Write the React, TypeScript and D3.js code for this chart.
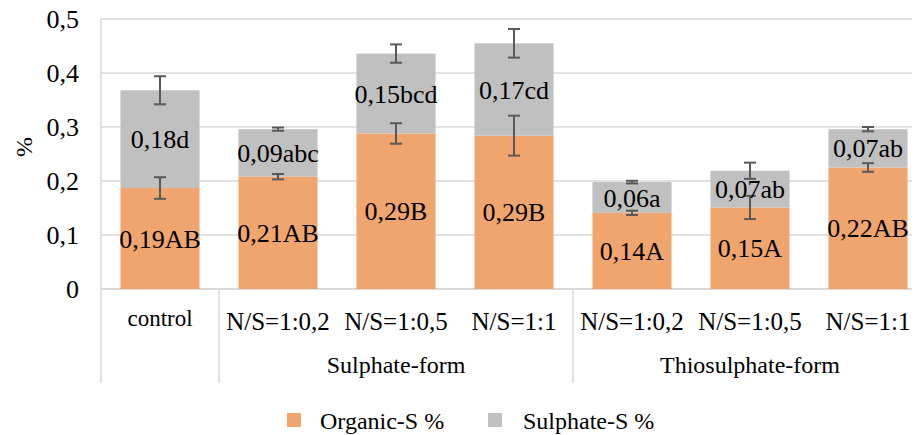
import React from 'react';
import * as d3 from 'd3';

const categories = ['control', 'N/S=1:0,2', 'N/S=1:0,5', 'N/S=1:1', 'N/S=1:0,2', 'N/S=1:0,5', 'N/S=1:1'];
const organic = [0.187, 0.208, 0.288, 0.284, 0.141, 0.151, 0.225];
const sulphate = [0.181, 0.088, 0.148, 0.171, 0.057, 0.068, 0.071];
const organicErr = [0.02, 0.005, 0.019, 0.037, 0.004, 0.0215, 0.008];
const sulphateErr = [0.026, 0.003, 0.017, 0.0265, 0.0025, 0.015, 0.004];
const organicLabels = ['0,19AB', '0,21AB', '0,29B', '0,29B', '0,14A', '0,15A', '0,22AB'];
const sulphateLabels = ['0,18d', '0,09abc', '0,15bcd', '0,17cd', '0,06a', '0,07ab', '0,07ab'];
const groups = [
  { name: 'Sulphate-form', from: 1, to: 3 },
  { name: 'Thiosulphate-form', from: 4, to: 6 },
];
const yTicks = [0, 0.1, 0.2, 0.3, 0.4, 0.5];

const ORANGE = '#F1A56E';
const GRAY = '#C0C0C0';
const GRID = '#D9D9D9';
const ERR = '#595959';
const FONT = "'Liberation Serif', Tinos, 'Times New Roman', Times, 'DejaVu Serif', serif";

export default function App() {
  const width = 915, height = 435;
  const left = 101, right = 927, top = 19, bottom = 289;

  const x = d3.scaleBand<number>()
    .domain(categories.map((_, i) => i))
    .range([left, right])
    .paddingInner(0.33)
    .paddingOuter(0.165);

  const y = d3.scaleLinear().domain([0, 0.5]).range([bottom, top]);
  const fmt = (v: number) => (v === 0 ? '0' : d3.format('.1f')(v).replace('.', ','));

  const step = x.step();
  const bandLeft = (i: number) => left + i * step;
  const sepBottom = 383;
  const separators = [0, 1, 4];
  const txt = { fontFamily: FONT, fill: '#000' };

  const errBar = (cx: number, v: number, e: number, key: string) => (
    <g key={key} stroke={ERR} strokeWidth={2}>
      <line x1={cx} x2={cx} y1={y(v + e)} y2={y(v - e)} />
      <line x1={cx - 6} x2={cx + 6} y1={y(v + e)} y2={y(v + e)} />
      <line x1={cx - 6} x2={cx + 6} y1={y(v - e)} y2={y(v - e)} />
    </g>
  );

  return (
    <svg width={width} height={height} style={{ position: 'absolute', left: 0, top: 0, background: '#fff', fontFamily: FONT }}>
      {/* grid */}
      {yTicks.map(t => (
        <line key={t} x1={left} x2={912} y1={y(t)} y2={y(t)} stroke={GRID} strokeWidth={t === 0 ? 2 : 1.5} />
      ))}
      <line x1={left} x2={left} y1={top} y2={bottom} stroke={GRID} strokeWidth={1.5} />
      {separators.map(i => (
        <line key={i} x1={bandLeft(i)} x2={bandLeft(i)} y1={bottom} y2={sepBottom} stroke={GRID} strokeWidth={1.5} />
      ))}

      {/* y tick labels */}
      {yTicks.map(t => (
        <text key={t} x={79} y={y(t)} dy="0.35em" textAnchor="end" fontSize={26} style={txt}>{fmt(t)}</text>
      ))}
      <text transform="translate(32,147) rotate(-90)" textAnchor="middle" fontSize={24} style={txt}>%</text>

      {/* bars */}
      {categories.map((_, i) => {
        const bx = x(i) as number;
        const bw = x.bandwidth();
        const o = organic[i];
        const tot = o + sulphate[i];
        const cx = bx + bw / 2;
        return (
          <g key={i}>
            <rect x={bx} width={bw} y={y(o)} height={y(0) - y(o)} fill={ORANGE} />
            <rect x={bx} width={bw} y={y(tot)} height={y(o) - y(tot)} fill={GRAY} />
            {errBar(cx, o, organicErr[i], 'eo')}
            {errBar(cx, tot, sulphateErr[i], 'es')}
            <text x={cx} y={(y(0) + y(o)) / 2} dy="0.35em" textAnchor="middle" fontSize={26} style={txt}>{organicLabels[i]}</text>
            <text x={cx} y={(y(o) + y(tot)) / 2} dy="0.35em" textAnchor="middle" fontSize={26} style={txt}>{sulphateLabels[i]}</text>
          </g>
        );
      })}

      {/* category labels */}
      {categories.map((c, i) => (
        <text key={i} x={(x(i) as number) + x.bandwidth() / 2} y={i === 0 ? 326 : 330} textAnchor="middle"
          fontSize={i === 0 ? 23 : 25} style={txt}>{c}</text>
      ))}
      {groups.map(g => (
        <text key={g.name} x={(bandLeft(g.from) + bandLeft(g.to + 1)) / 2} y={373} textAnchor="middle" fontSize={24} style={txt}>
          {g.name}
        </text>
      ))}

      {/* legend */}
      <rect x={287} y={413} width={14} height={14} fill={ORANGE} />
      <text x={320} y={429} fontSize={24} style={txt}>Organic-S %</text>
      <rect x={488} y={413} width={14} height={14} fill={GRAY} />
      <text x={523} y={429} fontSize={24} style={txt}>Sulphate-S %</text>
    </svg>
  );
}
